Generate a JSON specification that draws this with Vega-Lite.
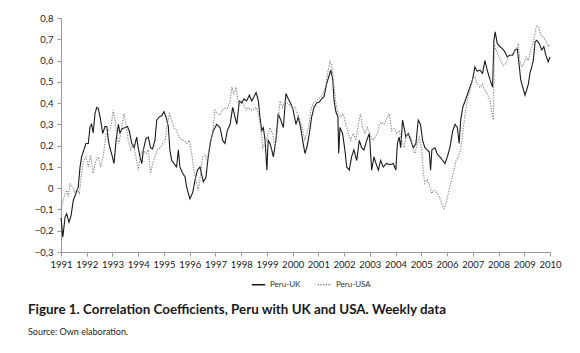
{
  "$schema": "https://vega.github.io/schema/vega-lite/v6.json",
  "width": 489,
  "height": 234,
  "autosize": {"type": "none"},
  "padding": {"left": 61, "top": 18, "right": 30, "bottom": 101},
  "background": "white",
  "config": {"view": {"stroke": null}, "font": "Lato"},
  "title": {
    "text": "Figure 1. Correlation Coefficients, Peru with UK and USA. Weekly data",
    "subtitle": "Source: Own elaboration.",
    "orient": "bottom",
    "anchor": "start",
    "frame": "group",
    "dx": -33,
    "offset": 14,
    "font": "Lato",
    "fontSize": 13.4,
    "fontWeight": "bold",
    "color": "#1a1a1a",
    "subtitleFont": "Lato",
    "subtitleFontSize": 9,
    "subtitleColor": "#222",
    "subtitlePadding": 12
  },
  "data": {
    "values": [
      {"s":"Peru-UK","t":1991.00,"v":-0.14},{"s":"Peru-UK","t":1991.07,"v":-0.23},{"s":"Peru-UK","t":1991.16,"v":-0.135},{"s":"Peru-UK","t":1991.22,"v":-0.12},{"s":"Peru-UK","t":1991.31,"v":-0.16},{"s":"Peru-UK","t":1991.39,"v":-0.13},{"s":"Peru-UK","t":1991.48,"v":-0.056},{"s":"Peru-UK","t":1991.58,"v":-0.025},{"s":"Peru-UK","t":1991.67,"v":0.006},{"s":"Peru-UK","t":1991.74,"v":0.10},{"s":"Peru-UK","t":1991.80,"v":0.147},{"s":"Peru-UK","t":1991.89,"v":0.18},{"s":"Peru-UK","t":1991.97,"v":0.21},
      {"s":"Peru-UK","t":1992.06,"v":0.21},{"s":"Peru-UK","t":1992.13,"v":0.29},{"s":"Peru-UK","t":1992.19,"v":0.30},{"s":"Peru-UK","t":1992.25,"v":0.26},{"s":"Peru-UK","t":1992.32,"v":0.35},{"s":"Peru-UK","t":1992.39,"v":0.38},{"s":"Peru-UK","t":1992.45,"v":0.375},{"s":"Peru-UK","t":1992.54,"v":0.32},{"s":"Peru-UK","t":1992.62,"v":0.257},{"s":"Peru-UK","t":1992.71,"v":0.29},{"s":"Peru-UK","t":1992.78,"v":0.29},{"s":"Peru-UK","t":1992.84,"v":0.225},{"s":"Peru-UK","t":1992.90,"v":0.19},{"s":"Peru-UK","t":1992.97,"v":0.16},
      {"s":"Peru-UK","t":1993.06,"v":0.116},{"s":"Peru-UK","t":1993.14,"v":0.225},{"s":"Peru-UK","t":1993.23,"v":0.30},{"s":"Peru-UK","t":1993.29,"v":0.26},{"s":"Peru-UK","t":1993.38,"v":0.28},{"s":"Peru-UK","t":1993.49,"v":0.285},{"s":"Peru-UK","t":1993.58,"v":0.29},{"s":"Peru-UK","t":1993.65,"v":0.27},{"s":"Peru-UK","t":1993.75,"v":0.21},{"s":"Peru-UK","t":1993.84,"v":0.19},{"s":"Peru-UK","t":1993.94,"v":0.24},
      {"s":"Peru-UK","t":1994.00,"v":0.19},{"s":"Peru-UK","t":1994.07,"v":0.147},{"s":"Peru-UK","t":1994.14,"v":0.116},{"s":"Peru-UK","t":1994.20,"v":0.18},{"s":"Peru-UK","t":1994.30,"v":0.233},{"s":"Peru-UK","t":1994.39,"v":0.24},{"s":"Peru-UK","t":1994.48,"v":0.19},{"s":"Peru-UK","t":1994.56,"v":0.185},{"s":"Peru-UK","t":1994.65,"v":0.225},{"s":"Peru-UK","t":1994.72,"v":0.32},{"s":"Peru-UK","t":1994.82,"v":0.335},{"s":"Peru-UK","t":1994.91,"v":0.34},
      {"s":"Peru-UK","t":1995.00,"v":0.36},{"s":"Peru-UK","t":1995.08,"v":0.335},{"s":"Peru-UK","t":1995.17,"v":0.29},{"s":"Peru-UK","t":1995.23,"v":0.18},{"s":"Peru-UK","t":1995.30,"v":0.13},{"s":"Peru-UK","t":1995.39,"v":0.116},{"s":"Peru-UK","t":1995.49,"v":0.10},{"s":"Peru-UK","t":1995.56,"v":0.18},{"s":"Peru-UK","t":1995.62,"v":0.10},{"s":"Peru-UK","t":1995.73,"v":0.07},{"s":"Peru-UK","t":1995.82,"v":0.053},{"s":"Peru-UK","t":1995.88,"v":0.006},{"s":"Peru-UK","t":1995.95,"v":-0.025},
      {"s":"Peru-UK","t":1996.01,"v":-0.05},{"s":"Peru-UK","t":1996.12,"v":-0.02},{"s":"Peru-UK","t":1996.21,"v":0.04},{"s":"Peru-UK","t":1996.30,"v":0.085},{"s":"Peru-UK","t":1996.40,"v":0.10},{"s":"Peru-UK","t":1996.53,"v":0.03},{"s":"Peru-UK","t":1996.63,"v":0.05},{"s":"Peru-UK","t":1996.72,"v":0.147},{"s":"Peru-UK","t":1996.82,"v":0.225},{"s":"Peru-UK","t":1996.92,"v":0.27},
      {"s":"Peru-UK","t":1997.05,"v":0.30},{"s":"Peru-UK","t":1997.18,"v":0.285},{"s":"Peru-UK","t":1997.28,"v":0.225},{"s":"Peru-UK","t":1997.37,"v":0.21},{"s":"Peru-UK","t":1997.46,"v":0.27},{"s":"Peru-UK","t":1997.57,"v":0.30},{"s":"Peru-UK","t":1997.67,"v":0.38},{"s":"Peru-UK","t":1997.76,"v":0.335},{"s":"Peru-UK","t":1997.83,"v":0.30},{"s":"Peru-UK","t":1997.93,"v":0.41},
      {"s":"Peru-UK","t":1998.02,"v":0.40},{"s":"Peru-UK","t":1998.11,"v":0.42},{"s":"Peru-UK","t":1998.21,"v":0.41},{"s":"Peru-UK","t":1998.32,"v":0.437},{"s":"Peru-UK","t":1998.41,"v":0.41},{"s":"Peru-UK","t":1998.50,"v":0.43},{"s":"Peru-UK","t":1998.58,"v":0.45},{"s":"Peru-UK","t":1998.67,"v":0.41},{"s":"Peru-UK","t":1998.73,"v":0.335},{"s":"Peru-UK","t":1998.80,"v":0.27},{"s":"Peru-UK","t":1998.86,"v":0.285},{"s":"Peru-UK","t":1998.93,"v":0.225},
      {"s":"Peru-UK","t":1999.00,"v":0.085},{"s":"Peru-UK","t":1999.05,"v":0.225},{"s":"Peru-UK","t":1999.12,"v":0.21},{"s":"Peru-UK","t":1999.19,"v":0.18},{"s":"Peru-UK","t":1999.25,"v":0.147},{"s":"Peru-UK","t":1999.35,"v":0.225},{"s":"Peru-UK","t":1999.44,"v":0.35},{"s":"Peru-UK","t":1999.54,"v":0.32},{"s":"Peru-UK","t":1999.64,"v":0.285},{"s":"Peru-UK","t":1999.74,"v":0.445},{"s":"Peru-UK","t":1999.83,"v":0.42},{"s":"Peru-UK","t":1999.92,"v":0.40},
      {"s":"Peru-UK","t":2000.02,"v":0.367},{"s":"Peru-UK","t":2000.13,"v":0.30},{"s":"Peru-UK","t":2000.22,"v":0.335},{"s":"Peru-UK","t":2000.31,"v":0.285},{"s":"Peru-UK","t":2000.41,"v":0.21},{"s":"Peru-UK","t":2000.48,"v":0.163},{"s":"Peru-UK","t":2000.55,"v":0.19},{"s":"Peru-UK","t":2000.65,"v":0.257},{"s":"Peru-UK","t":2000.74,"v":0.335},{"s":"Peru-UK","t":2000.83,"v":0.38},{"s":"Peru-UK","t":2000.93,"v":0.40},
      {"s":"Peru-UK","t":2001.04,"v":0.405},{"s":"Peru-UK","t":2001.13,"v":0.42},{"s":"Peru-UK","t":2001.22,"v":0.43},{"s":"Peru-UK","t":2001.32,"v":0.49},{"s":"Peru-UK","t":2001.42,"v":0.53},{"s":"Peru-UK","t":2001.48,"v":0.555},{"s":"Peru-UK","t":2001.56,"v":0.51},{"s":"Peru-UK","t":2001.61,"v":0.41},{"s":"Peru-UK","t":2001.68,"v":0.36},{"s":"Peru-UK","t":2001.76,"v":0.335},{"s":"Peru-UK","t":2001.79,"v":0.163},{"s":"Peru-UK","t":2001.84,"v":0.285},{"s":"Peru-UK","t":2001.94,"v":0.257},
      {"s":"Peru-UK","t":2002.03,"v":0.18},{"s":"Peru-UK","t":2002.10,"v":0.10},{"s":"Peru-UK","t":2002.20,"v":0.085},{"s":"Peru-UK","t":2002.29,"v":0.147},{"s":"Peru-UK","t":2002.38,"v":0.18},{"s":"Peru-UK","t":2002.49,"v":0.13},{"s":"Peru-UK","t":2002.59,"v":0.225},{"s":"Peru-UK","t":2002.68,"v":0.19},{"s":"Peru-UK","t":2002.77,"v":0.18},{"s":"Peru-UK","t":2002.88,"v":0.225},{"s":"Peru-UK","t":2002.98,"v":0.257},
      {"s":"Peru-UK","t":2003.07,"v":0.085},{"s":"Peru-UK","t":2003.16,"v":0.147},{"s":"Peru-UK","t":2003.24,"v":0.116},{"s":"Peru-UK","t":2003.33,"v":0.085},{"s":"Peru-UK","t":2003.42,"v":0.13},{"s":"Peru-UK","t":2003.52,"v":0.10},{"s":"Peru-UK","t":2003.65,"v":0.116},{"s":"Peru-UK","t":2003.78,"v":0.11},{"s":"Peru-UK","t":2003.91,"v":0.116},
      {"s":"Peru-UK","t":2004.01,"v":0.085},{"s":"Peru-UK","t":2004.07,"v":0.21},{"s":"Peru-UK","t":2004.14,"v":0.24},{"s":"Peru-UK","t":2004.20,"v":0.19},{"s":"Peru-UK","t":2004.27,"v":0.32},{"s":"Peru-UK","t":2004.33,"v":0.285},{"s":"Peru-UK","t":2004.40,"v":0.24},{"s":"Peru-UK","t":2004.49,"v":0.257},{"s":"Peru-UK","t":2004.59,"v":0.225},{"s":"Peru-UK","t":2004.69,"v":0.19},{"s":"Peru-UK","t":2004.79,"v":0.21},{"s":"Peru-UK","t":2004.88,"v":0.32},{"s":"Peru-UK","t":2004.97,"v":0.30},
      {"s":"Peru-UK","t":2005.05,"v":0.225},{"s":"Peru-UK","t":2005.14,"v":0.19},{"s":"Peru-UK","t":2005.23,"v":0.18},{"s":"Peru-UK","t":2005.31,"v":0.17},{"s":"Peru-UK","t":2005.36,"v":0.085},{"s":"Peru-UK","t":2005.41,"v":0.18},{"s":"Peru-UK","t":2005.53,"v":0.19},{"s":"Peru-UK","t":2005.62,"v":0.16},{"s":"Peru-UK","t":2005.72,"v":0.147},{"s":"Peru-UK","t":2005.83,"v":0.13},{"s":"Peru-UK","t":2005.92,"v":0.116},
      {"s":"Peru-UK","t":2006.01,"v":0.147},{"s":"Peru-UK","t":2006.11,"v":0.19},{"s":"Peru-UK","t":2006.22,"v":0.27},{"s":"Peru-UK","t":2006.31,"v":0.30},{"s":"Peru-UK","t":2006.40,"v":0.285},{"s":"Peru-UK","t":2006.47,"v":0.21},{"s":"Peru-UK","t":2006.53,"v":0.32},{"s":"Peru-UK","t":2006.61,"v":0.38},{"s":"Peru-UK","t":2006.70,"v":0.41},{"s":"Peru-UK","t":2006.78,"v":0.437},{"s":"Peru-UK","t":2006.89,"v":0.475},{"s":"Peru-UK","t":2006.99,"v":0.51},
      {"s":"Peru-UK","t":2007.08,"v":0.57},{"s":"Peru-UK","t":2007.17,"v":0.55},{"s":"Peru-UK","t":2007.28,"v":0.555},{"s":"Peru-UK","t":2007.38,"v":0.54},{"s":"Peru-UK","t":2007.47,"v":0.60},{"s":"Peru-UK","t":2007.56,"v":0.555},{"s":"Peru-UK","t":2007.67,"v":0.51},{"s":"Peru-UK","t":2007.77,"v":0.475},{"s":"Peru-UK","t":2007.82,"v":0.695},{"s":"Peru-UK","t":2007.87,"v":0.735},{"s":"Peru-UK","t":2007.95,"v":0.68},
      {"s":"Peru-UK","t":2008.06,"v":0.665},{"s":"Peru-UK","t":2008.16,"v":0.655},{"s":"Peru-UK","t":2008.25,"v":0.64},{"s":"Peru-UK","t":2008.34,"v":0.617},{"s":"Peru-UK","t":2008.44,"v":0.625},{"s":"Peru-UK","t":2008.55,"v":0.625},{"s":"Peru-UK","t":2008.64,"v":0.65},{"s":"Peru-UK","t":2008.73,"v":0.655},{"s":"Peru-UK","t":2008.81,"v":0.57},{"s":"Peru-UK","t":2008.86,"v":0.51},{"s":"Peru-UK","t":2008.94,"v":0.475},
      {"s":"Peru-UK","t":2009.03,"v":0.437},{"s":"Peru-UK","t":2009.09,"v":0.46},{"s":"Peru-UK","t":2009.16,"v":0.49},{"s":"Peru-UK","t":2009.22,"v":0.54},{"s":"Peru-UK","t":2009.29,"v":0.57},{"s":"Peru-UK","t":2009.35,"v":0.60},{"s":"Peru-UK","t":2009.42,"v":0.688},{"s":"Peru-UK","t":2009.48,"v":0.695},{"s":"Peru-UK","t":2009.58,"v":0.68},{"s":"Peru-UK","t":2009.68,"v":0.65},{"s":"Peru-UK","t":2009.76,"v":0.665},{"s":"Peru-UK","t":2009.84,"v":0.625},{"s":"Peru-UK","t":2009.93,"v":0.594},{"s":"Peru-UK","t":2010.00,"v":0.617},

      {"s":"Peru-USA","t":1991.00,"v":-0.10},{"s":"Peru-USA","t":1991.09,"v":-0.056},{"s":"Peru-USA","t":1991.16,"v":-0.025},{"s":"Peru-USA","t":1991.22,"v":-0.01},{"s":"Peru-USA","t":1991.28,"v":-0.04},{"s":"Peru-USA","t":1991.35,"v":0.02},{"s":"Peru-USA","t":1991.45,"v":0.006},{"s":"Peru-USA","t":1991.54,"v":-0.02},{"s":"Peru-USA","t":1991.63,"v":0.0},{"s":"Peru-USA","t":1991.71,"v":-0.03},{"s":"Peru-USA","t":1991.78,"v":0.053},{"s":"Peru-USA","t":1991.87,"v":0.13},{"s":"Peru-USA","t":1991.97,"v":0.147},
      {"s":"Peru-USA","t":1992.06,"v":0.10},{"s":"Peru-USA","t":1992.15,"v":0.155},{"s":"Peru-USA","t":1992.25,"v":0.07},{"s":"Peru-USA","t":1992.36,"v":0.13},{"s":"Peru-USA","t":1992.45,"v":0.147},{"s":"Peru-USA","t":1992.54,"v":0.10},{"s":"Peru-USA","t":1992.64,"v":0.147},{"s":"Peru-USA","t":1992.75,"v":0.257},{"s":"Peru-USA","t":1992.84,"v":0.27},{"s":"Peru-USA","t":1992.93,"v":0.285},
      {"s":"Peru-USA","t":1993.03,"v":0.367},{"s":"Peru-USA","t":1993.10,"v":0.32},{"s":"Peru-USA","t":1993.16,"v":0.257},{"s":"Peru-USA","t":1993.25,"v":0.21},{"s":"Peru-USA","t":1993.36,"v":0.285},{"s":"Peru-USA","t":1993.45,"v":0.35},{"s":"Peru-USA","t":1993.53,"v":0.30},{"s":"Peru-USA","t":1993.61,"v":0.225},{"s":"Peru-USA","t":1993.71,"v":0.18},{"s":"Peru-USA","t":1993.81,"v":0.21},{"s":"Peru-USA","t":1993.91,"v":0.147},
      {"s":"Peru-USA","t":1994.00,"v":0.085},{"s":"Peru-USA","t":1994.10,"v":0.163},{"s":"Peru-USA","t":1994.20,"v":0.18},{"s":"Peru-USA","t":1994.30,"v":0.163},{"s":"Peru-USA","t":1994.39,"v":0.18},{"s":"Peru-USA","t":1994.48,"v":0.07},{"s":"Peru-USA","t":1994.56,"v":0.116},{"s":"Peru-USA","t":1994.65,"v":0.147},{"s":"Peru-USA","t":1994.74,"v":0.18},{"s":"Peru-USA","t":1994.85,"v":0.19},{"s":"Peru-USA","t":1994.95,"v":0.21},
      {"s":"Peru-USA","t":1995.04,"v":0.225},{"s":"Peru-USA","t":1995.13,"v":0.30},{"s":"Peru-USA","t":1995.21,"v":0.35},{"s":"Peru-USA","t":1995.30,"v":0.32},{"s":"Peru-USA","t":1995.39,"v":0.285},{"s":"Peru-USA","t":1995.49,"v":0.27},{"s":"Peru-USA","t":1995.60,"v":0.24},{"s":"Peru-USA","t":1995.69,"v":0.225},{"s":"Peru-USA","t":1995.78,"v":0.225},{"s":"Peru-USA","t":1995.88,"v":0.21},{"s":"Peru-USA","t":1995.98,"v":0.225},
      {"s":"Peru-USA","t":1996.08,"v":0.163},{"s":"Peru-USA","t":1996.14,"v":0.10},{"s":"Peru-USA","t":1996.24,"v":0.04},{"s":"Peru-USA","t":1996.33,"v":-0.01},{"s":"Peru-USA","t":1996.43,"v":0.07},{"s":"Peru-USA","t":1996.50,"v":0.147},{"s":"Peru-USA","t":1996.59,"v":0.155},{"s":"Peru-USA","t":1996.68,"v":0.13},{"s":"Peru-USA","t":1996.79,"v":0.21},{"s":"Peru-USA","t":1996.89,"v":0.257},{"s":"Peru-USA","t":1996.98,"v":0.367},
      {"s":"Peru-USA","t":1997.07,"v":0.35},{"s":"Peru-USA","t":1997.18,"v":0.345},{"s":"Peru-USA","t":1997.28,"v":0.367},{"s":"Peru-USA","t":1997.37,"v":0.375},{"s":"Peru-USA","t":1997.46,"v":0.375},{"s":"Peru-USA","t":1997.57,"v":0.41},{"s":"Peru-USA","t":1997.64,"v":0.475},{"s":"Peru-USA","t":1997.72,"v":0.445},{"s":"Peru-USA","t":1997.80,"v":0.475},{"s":"Peru-USA","t":1997.89,"v":0.40},{"s":"Peru-USA","t":1997.98,"v":0.41},
      {"s":"Peru-USA","t":1998.08,"v":0.40},{"s":"Peru-USA","t":1998.19,"v":0.367},{"s":"Peru-USA","t":1998.28,"v":0.38},{"s":"Peru-USA","t":1998.37,"v":0.367},{"s":"Peru-USA","t":1998.47,"v":0.367},{"s":"Peru-USA","t":1998.58,"v":0.38},{"s":"Peru-USA","t":1998.67,"v":0.35},{"s":"Peru-USA","t":1998.76,"v":0.285},{"s":"Peru-USA","t":1998.84,"v":0.19},{"s":"Peru-USA","t":1998.93,"v":0.21},
      {"s":"Peru-USA","t":1999.01,"v":0.24},{"s":"Peru-USA","t":1999.12,"v":0.285},{"s":"Peru-USA","t":1999.22,"v":0.257},{"s":"Peru-USA","t":1999.31,"v":0.19},{"s":"Peru-USA","t":1999.40,"v":0.27},{"s":"Peru-USA","t":1999.51,"v":0.41},{"s":"Peru-USA","t":1999.61,"v":0.38},{"s":"Peru-USA","t":1999.70,"v":0.41},{"s":"Peru-USA","t":1999.79,"v":0.40},{"s":"Peru-USA","t":1999.90,"v":0.39},
      {"s":"Peru-USA","t":2000.00,"v":0.375},{"s":"Peru-USA","t":2000.09,"v":0.38},{"s":"Peru-USA","t":2000.18,"v":0.35},{"s":"Peru-USA","t":2000.29,"v":0.32},{"s":"Peru-USA","t":2000.37,"v":0.285},{"s":"Peru-USA","t":2000.47,"v":0.225},{"s":"Peru-USA","t":2000.55,"v":0.257},{"s":"Peru-USA","t":2000.62,"v":0.285},{"s":"Peru-USA","t":2000.70,"v":0.367},{"s":"Peru-USA","t":2000.80,"v":0.40},{"s":"Peru-USA","t":2000.91,"v":0.41},
      {"s":"Peru-USA","t":2001.00,"v":0.42},{"s":"Peru-USA","t":2001.09,"v":0.43},{"s":"Peru-USA","t":2001.19,"v":0.445},{"s":"Peru-USA","t":2001.30,"v":0.49},{"s":"Peru-USA","t":2001.38,"v":0.555},{"s":"Peru-USA","t":2001.45,"v":0.594},{"s":"Peru-USA","t":2001.52,"v":0.58},{"s":"Peru-USA","t":2001.61,"v":0.475},{"s":"Peru-USA","t":2001.68,"v":0.40},{"s":"Peru-USA","t":2001.77,"v":0.35},{"s":"Peru-USA","t":2001.87,"v":0.335},{"s":"Peru-USA","t":2001.97,"v":0.35},
      {"s":"Peru-USA","t":2002.07,"v":0.30},{"s":"Peru-USA","t":2002.16,"v":0.257},{"s":"Peru-USA","t":2002.25,"v":0.225},{"s":"Peru-USA","t":2002.36,"v":0.257},{"s":"Peru-USA","t":2002.46,"v":0.225},{"s":"Peru-USA","t":2002.55,"v":0.30},{"s":"Peru-USA","t":2002.64,"v":0.35},{"s":"Peru-USA","t":2002.72,"v":0.285},{"s":"Peru-USA","t":2002.81,"v":0.257},{"s":"Peru-USA","t":2002.90,"v":0.285},
      {"s":"Peru-USA","t":2003.00,"v":0.257},{"s":"Peru-USA","t":2003.11,"v":0.225},{"s":"Peru-USA","t":2003.20,"v":0.24},{"s":"Peru-USA","t":2003.29,"v":0.257},{"s":"Peru-USA","t":2003.37,"v":0.30},{"s":"Peru-USA","t":2003.46,"v":0.31},{"s":"Peru-USA","t":2003.55,"v":0.30},{"s":"Peru-USA","t":2003.65,"v":0.325},{"s":"Peru-USA","t":2003.75,"v":0.35},{"s":"Peru-USA","t":2003.85,"v":0.27},{"s":"Peru-USA","t":2003.94,"v":0.28},
      {"s":"Peru-USA","t":2004.04,"v":0.257},{"s":"Peru-USA","t":2004.14,"v":0.27},{"s":"Peru-USA","t":2004.24,"v":0.225},{"s":"Peru-USA","t":2004.33,"v":0.19},{"s":"Peru-USA","t":2004.40,"v":0.24},{"s":"Peru-USA","t":2004.49,"v":0.257},{"s":"Peru-USA","t":2004.59,"v":0.24},{"s":"Peru-USA","t":2004.69,"v":0.18},{"s":"Peru-USA","t":2004.75,"v":0.163},{"s":"Peru-USA","t":2004.84,"v":0.21},{"s":"Peru-USA","t":2004.92,"v":0.24},
      {"s":"Peru-USA","t":2005.01,"v":0.19},{"s":"Peru-USA","t":2005.08,"v":0.07},{"s":"Peru-USA","t":2005.14,"v":0.022},{"s":"Peru-USA","t":2005.23,"v":0.04},{"s":"Peru-USA","t":2005.34,"v":0.006},{"s":"Peru-USA","t":2005.40,"v":-0.025},{"s":"Peru-USA","t":2005.49,"v":-0.01},{"s":"Peru-USA","t":2005.60,"v":-0.02},{"s":"Peru-USA","t":2005.70,"v":-0.04},{"s":"Peru-USA","t":2005.79,"v":-0.072},{"s":"Peru-USA","t":2005.88,"v":-0.096},{"s":"Peru-USA","t":2005.96,"v":-0.072},
      {"s":"Peru-USA","t":2006.05,"v":-0.025},{"s":"Peru-USA","t":2006.14,"v":0.022},{"s":"Peru-USA","t":2006.24,"v":0.07},{"s":"Peru-USA","t":2006.35,"v":0.13},{"s":"Peru-USA","t":2006.44,"v":0.147},{"s":"Peru-USA","t":2006.53,"v":0.18},{"s":"Peru-USA","t":2006.61,"v":0.257},{"s":"Peru-USA","t":2006.70,"v":0.35},{"s":"Peru-USA","t":2006.78,"v":0.41},{"s":"Peru-USA","t":2006.89,"v":0.46},{"s":"Peru-USA","t":2006.99,"v":0.51},
      {"s":"Peru-USA","t":2007.08,"v":0.525},{"s":"Peru-USA","t":2007.17,"v":0.49},{"s":"Peru-USA","t":2007.28,"v":0.475},{"s":"Peru-USA","t":2007.38,"v":0.49},{"s":"Peru-USA","t":2007.47,"v":0.46},{"s":"Peru-USA","t":2007.56,"v":0.445},{"s":"Peru-USA","t":2007.67,"v":0.41},{"s":"Peru-USA","t":2007.74,"v":0.35},{"s":"Peru-USA","t":2007.80,"v":0.32},{"s":"Peru-USA","t":2007.84,"v":0.68},{"s":"Peru-USA","t":2007.90,"v":0.65},{"s":"Peru-USA","t":2007.99,"v":0.625},
      {"s":"Peru-USA","t":2008.08,"v":0.60},{"s":"Peru-USA","t":2008.18,"v":0.578},{"s":"Peru-USA","t":2008.29,"v":0.586},{"s":"Peru-USA","t":2008.38,"v":0.617},{"s":"Peru-USA","t":2008.47,"v":0.625},{"s":"Peru-USA","t":2008.57,"v":0.633},{"s":"Peru-USA","t":2008.68,"v":0.65},{"s":"Peru-USA","t":2008.77,"v":0.68},{"s":"Peru-USA","t":2008.83,"v":0.60},{"s":"Peru-USA","t":2008.90,"v":0.57},{"s":"Peru-USA","t":2008.99,"v":0.586},
      {"s":"Peru-USA","t":2009.07,"v":0.617},{"s":"Peru-USA","t":2009.16,"v":0.60},{"s":"Peru-USA","t":2009.25,"v":0.65},{"s":"Peru-USA","t":2009.33,"v":0.68},{"s":"Peru-USA","t":2009.39,"v":0.71},{"s":"Peru-USA","t":2009.48,"v":0.766},{"s":"Peru-USA","t":2009.56,"v":0.76},{"s":"Peru-USA","t":2009.64,"v":0.72},{"s":"Peru-USA","t":2009.74,"v":0.71},{"s":"Peru-USA","t":2009.84,"v":0.695},{"s":"Peru-USA","t":2009.93,"v":0.665},{"s":"Peru-USA","t":2010.00,"v":0.68}
    ]
  },
  "mark": {"type": "line", "strokeWidth": 1.1},
  "encoding": {
    "x": {
      "field": "t", "type": "quantitative",
      "scale": {"domain": [1991, 2010], "nice": false, "zero": false},
      "axis": {
        "title": null, "grid": false,
        "values": [1991,1992,1993,1994,1995,1996,1997,1998,1999,2000,2001,2002,2003,2004,2005,2006,2007,2008,2009,2010],
        "format": "d", "labelFont": "Lato", "labelFontSize": 9.5, "labelColor": "#1a1a1a",
        "labelPadding": 3, "tickSize": 4, "tickColor": "#999", "domainColor": "#999", "labelFlush": false
      }
    },
    "y": {
      "field": "v", "type": "quantitative",
      "scale": {"domain": [-0.3, 0.8], "nice": false, "zero": false},
      "axis": {
        "title": null, "grid": false,
        "values": [-0.3,-0.2,-0.1,0,0.1,0.2,0.3,0.4,0.5,0.6,0.7,0.8],
        "labelExpr": "datum.value == 0 ? '0' : replace(format(datum.value, '.1f'), '.', ',')",
        "labelFont": "Lato", "labelFontSize": 9.5, "labelColor": "#1a1a1a",
        "labelPadding": 4, "tickSize": 4, "tickColor": "#999", "domainColor": "#999"
      }
    },
    "color": {
      "field": "s", "type": "nominal",
      "scale": {"domain": ["Peru-UK", "Peru-USA"], "range": ["#1a1a1a", "#8a8a8a"]},
      "legend": {
        "title": null, "orient": "none", "direction": "horizontal",
        "legendX": 190, "legendY": 259,
        "labelFont": "Lato", "labelFontSize": 8, "labelColor": "#333",
        "symbolType": "stroke", "symbolSize": 180, "symbolStrokeWidth": 1.3, "columnPadding": 14
      }
    },
    "strokeDash": {
      "field": "s", "type": "nominal",
      "scale": {"domain": ["Peru-UK", "Peru-USA"], "range": [[1, 0], [1.3, 1.3]]},
      "legend": {
        "title": null, "orient": "none", "direction": "horizontal",
        "legendX": 190, "legendY": 259,
        "labelFont": "Lato", "labelFontSize": 8, "labelColor": "#333",
        "symbolType": "stroke", "symbolSize": 180, "symbolStrokeWidth": 1.3, "columnPadding": 14
      }
    }
  }
}
